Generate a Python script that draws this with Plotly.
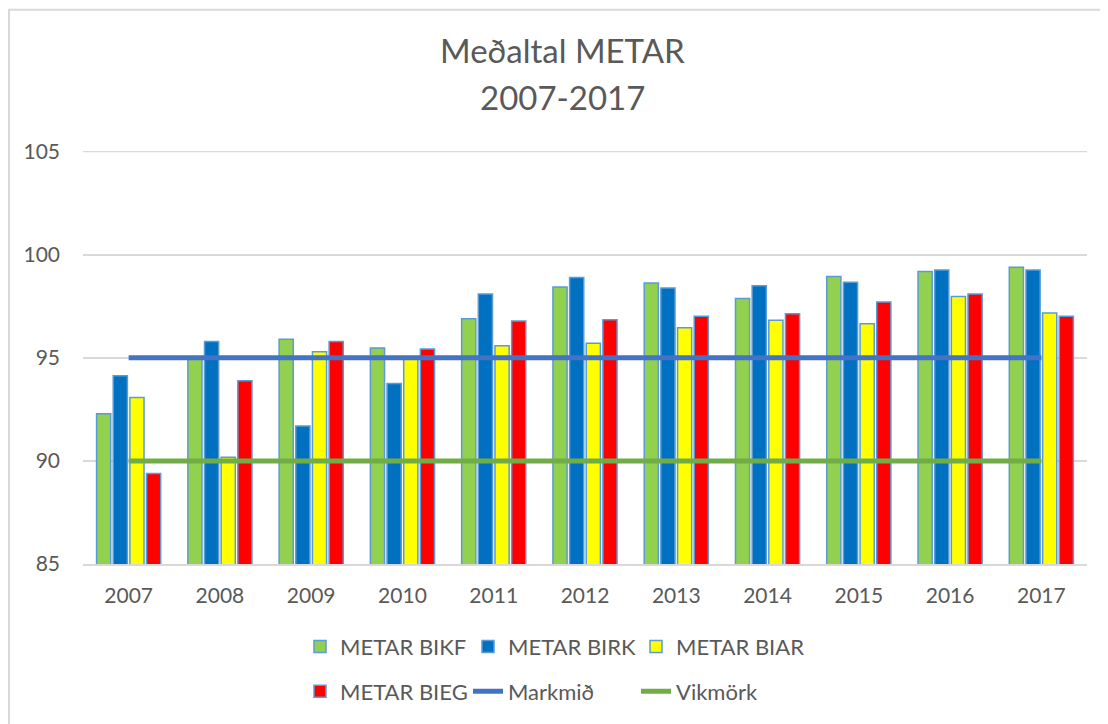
import plotly.graph_objects as go

years = ["2007", "2008", "2009", "2010", "2011", "2012", "2013", "2014", "2015", "2016", "2017"]
bikf = [92.29, 94.95, 95.90, 95.48, 96.90, 98.44, 98.63, 97.88, 98.94, 99.18, 99.39]
birk = [94.13, 95.79, 91.69, 93.76, 98.10, 98.90, 98.38, 98.49, 98.66, 99.26, 99.26]
biar = [93.07, 90.18, 95.29, 94.97, 95.58, 95.71, 96.46, 96.82, 96.65, 97.97, 97.17]
bieg = [89.39, 93.89, 95.79, 95.43, 96.78, 96.85, 97.01, 97.14, 97.71, 98.09, 97.01]
markmid = [95, 95, 95, 95, 95, 95, 95, 95, 95, 95, 95]
vikmork = [90, 90, 90, 90, 90, 90, 90, 90, 90, 90, 90]
y_ticks = [85, 90, 95, 100, 105]

FONT = "Lato"
GRAY = "#595959"
EDGE = "#5B9BD5"
GRID = "#D9D9D9"

fig = go.Figure()
bar_series = [
    ("METAR BIKF", bikf, "#92D050", "legend"),
    ("METAR BIRK", birk, "#0070C0", "legend"),
    ("METAR BIAR", biar, "#FFFF00", "legend"),
    ("METAR BIEG", bieg, "#FF0000", "legend2"),
]
for name, vals, col, lg in bar_series:
    fig.add_trace(go.Bar(
        x=years, y=vals, name=name, legend=lg,
        marker=dict(color=col, line=dict(color=EDGE, width=1.5)),
    ))

fig.add_trace(go.Scatter(x=years, y=markmid, name="Markmið", mode="lines",
                         line=dict(color="#4472C4", width=5), legend="legend2"))
fig.add_trace(go.Scatter(x=years, y=vikmork, name="Vikmörk", mode="lines",
                         line=dict(color="#70AD47", width=5), legend="legend2"))

# page body has an 8px margin: figure coordinates = screen - 8
OFF = 8
W, H = 1108 - OFF, 724 - OFF
L, T = 83 - OFF, 151 - OFF
R = W - (1087 - OFF)
B = H - (566 - OFF)
pw, ph = W - L - R, H - T - B

def px(xs):
    return (xs - OFF - L) / pw

def py(ys):
    return (H - B - (ys - OFF)) / ph

legend_common = dict(
    orientation="h", xanchor="left", yanchor="middle",
    entrywidth=123, entrywidthmode="pixels",
    font=dict(family=FONT, size=22, color=GRAY),
    bgcolor="rgba(0,0,0,0)", itemclick=False, traceorder="normal",
)

fig.update_layout(
    width=W, height=H,
    margin=dict(l=L, r=R, t=T, b=B),
    paper_bgcolor="white", plot_bgcolor="white",
    barmode="group", bargap=0.27, bargroupgap=0.15,
    font=dict(family=FONT, color=GRAY),
    showlegend=True,
    legend=dict(x=px(300), y=py(649), **legend_common),
    legend2=dict(x=px(300), y=py(694), **legend_common),
    xaxis=dict(
        type="category", tickfont=dict(family=FONT, size=21, color=GRAY),
        showgrid=False, showline=True, linecolor=GRID, linewidth=1.5,
        ticks="", ticklabelstandoff=12,
    ),
    yaxis=dict(
        range=[85, 105.03], tickvals=y_ticks, ticktext=[str(v) for v in y_ticks],
        tickfont=dict(family=FONT, size=21, color=GRAY),
        showgrid=True, gridcolor=GRID, gridwidth=1.5,
        zeroline=False, showline=False, ticks="", ticklabelstandoff=22,
    ),
    annotations=[
        dict(text="Meðaltal METAR", x=px(562), y=py(50), xref="paper", yref="paper",
             showarrow=False, font=dict(family=FONT, size=33, color=GRAY),
             xanchor="center", yanchor="middle"),
        dict(text="2007-2017", x=px(562), y=py(97), xref="paper", yref="paper",
             showarrow=False, font=dict(family=FONT, size=33, color=GRAY),
             xanchor="center", yanchor="middle"),
    ],
    shapes=[
        dict(type="rect", xref="paper", yref="paper",
             x0=px(9), x1=px(1130), y0=py(760), y1=py(9),
             line=dict(color=GRID, width=2), fillcolor="rgba(0,0,0,0)", layer="below"),
        dict(type="line", xref="paper", yref="y", x0=0, x1=1, y0=y_ticks[-1], y1=y_ticks[-1],
             line=dict(color=GRID, width=1.5), layer="below"),
    ],
)

fig.write_html("out.html")
